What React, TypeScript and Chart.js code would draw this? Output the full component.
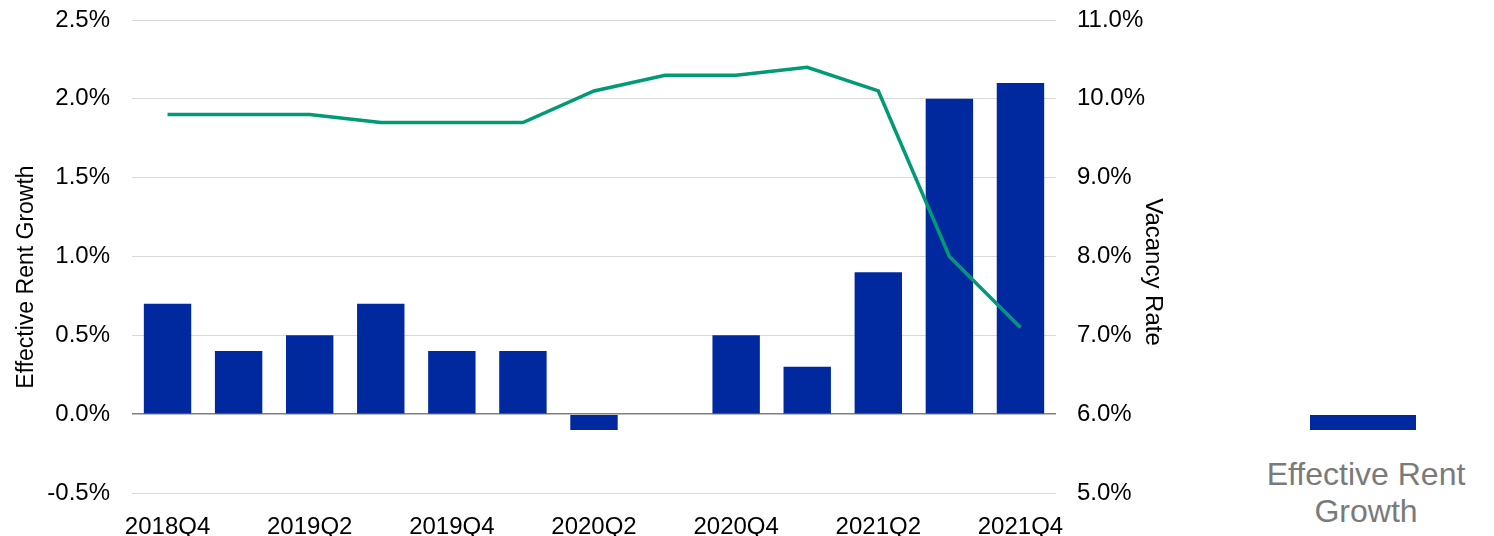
import React, { useEffect, useRef } from "react";
import { Chart, registerables } from "chart.js";

Chart.register(...registerables);

const categories = [
  "2018Q4", "2019Q1", "2019Q2", "2019Q3", "2019Q4", "2020Q1", "2020Q2",
  "2020Q3", "2020Q4", "2021Q1", "2021Q2", "2021Q3", "2021Q4",
];
const rentGrowth = [0.7, 0.4, 0.5, 0.7, 0.4, 0.4, -0.1, 0, 0.5, 0.3, 0.9, 2.0, 2.1];
const vacancyRate = [9.8, 9.8, 9.8, 9.7, 9.7, 9.7, 10.1, 10.3, 10.3, 10.4, 10.1, 8.0, 7.1];

const leftTitle = "Effective Rent Growth";
const rightTitle = "Vacancy Rate";

const BAR_COLOR = "#0029a0";
const LINE_COLOR = "#009a74";
const FONT = '"Liberation Sans", Arial, sans-serif';

const axisTitles = {
  id: "axisTitles",
  afterDraw(chart: any) {
    const ctx = chart.ctx;
    ctx.save();
    ctx.fillStyle = "#000";
    ctx.textAlign = "center";
    ctx.textBaseline = "middle";
    ctx.font = `23px ${FONT}`;
    ctx.translate(27, 277);
    ctx.rotate(-Math.PI / 2);
    ctx.fillText(leftTitle, 0, 0);
    ctx.restore();
    ctx.save();
    ctx.fillStyle = "#000";
    ctx.textAlign = "center";
    ctx.textBaseline = "middle";
    ctx.font = `24px ${FONT}`;
    ctx.translate(1153, 272);
    ctx.rotate(Math.PI / 2);
    ctx.fillText(rightTitle, 0, 0);
    ctx.restore();
  },
};

export default function App() {
  const ref = useRef<HTMLCanvasElement | null>(null);

  useEffect(() => {
    document.body.style.margin = "0";
    const canvas = ref.current;
    if (!canvas) return;
    const chart = new Chart(canvas, {
      type: "bar",
      data: {
        labels: categories,
        datasets: [
          {
            type: "line",
            label: rightTitle,
            data: vacancyRate,
            yAxisID: "y1",
            borderColor: LINE_COLOR,
            backgroundColor: LINE_COLOR,
            borderWidth: 3.5,
            pointRadius: 0,
            tension: 0,
            order: 0,
          },
          {
            type: "bar",
            label: leftTitle,
            data: rentGrowth,
            yAxisID: "y",
            backgroundColor: BAR_COLOR,
            categoryPercentage: 1,
            barPercentage: 0.667,
            order: 1,
          },
        ],
      },
      options: {
        responsive: false,
        animation: false,
        layout: { padding: { top: 20, left: 0, right: 0, bottom: 0 } },
        plugins: {
          legend: { display: false },
          tooltip: { enabled: false },
        },
        scales: {
          x: {
            grid: { display: false },
            border: { display: false },
            ticks: {
              autoSkip: false,
              maxRotation: 0,
              padding: 12,
              color: "#000",
              font: { family: FONT, size: 24 },
              callback: (_v: any, i: number) => (i % 2 === 0 ? categories[i] : ""),
            },
            afterFit: (s: any) => {
              s.height = 43;
              s.paddingLeft = 0;
              s.paddingRight = 0;
            },
          },
          y: {
            position: "left",
            min: -0.5,
            max: 2.5,
            ticks: {
              stepSize: 0.5,
              padding: 22,
              color: "#000",
              font: { family: FONT, size: 24 },
              callback: (v: any) => Number(v).toFixed(1) + "%",
            },
            grid: {
              drawTicks: false,
              color: (c: any) => (c.tick && c.tick.value === 0 ? "#7f7f7f" : "#d9d9d9"),
              lineWidth: (c: any) => (c.tick && c.tick.value === 0 ? 1.5 : 1),
            },
            border: { display: false },
            afterFit: (s: any) => {
              s.width = 132;
              s.paddingTop = 0;
              s.paddingBottom = 0;
            },
          },
          y1: {
            position: "right",
            min: 5,
            max: 11,
            ticks: {
              stepSize: 1,
              padding: 21,
              color: "#000",
              font: { family: FONT, size: 24 },
              callback: (v: any) => Number(v).toFixed(1) + "%",
            },
            grid: { drawOnChartArea: false, drawTicks: false },
            border: { display: false },
            afterFit: (s: any) => {
              s.width = 124;
              s.paddingTop = 0;
              s.paddingBottom = 0;
            },
          },
        },
      },
      plugins: [axisTitles],
    });
    return () => chart.destroy();
  }, []);

  return (
    <div style={{ position: "relative", width: 1494, height: 536 }}>
      <canvas ref={ref} width={1180} height={536} style={{ position: "absolute", left: 0, top: 0 }} />
      <div
        style={{
          position: "absolute",
          left: 1310,
          top: 415,
          width: 106,
          height: 15,
          background: BAR_COLOR,
        }}
      />
      <div
        style={{
          position: "absolute",
          left: 1246,
          top: 456,
          width: 240,
          textAlign: "center",
          fontFamily: FONT,
          fontSize: 32,
          lineHeight: "37px",
          color: "#7a7a7a",
        }}
      >
        Effective Rent
        <br />
        Growth
      </div>
    </div>
  );
}
